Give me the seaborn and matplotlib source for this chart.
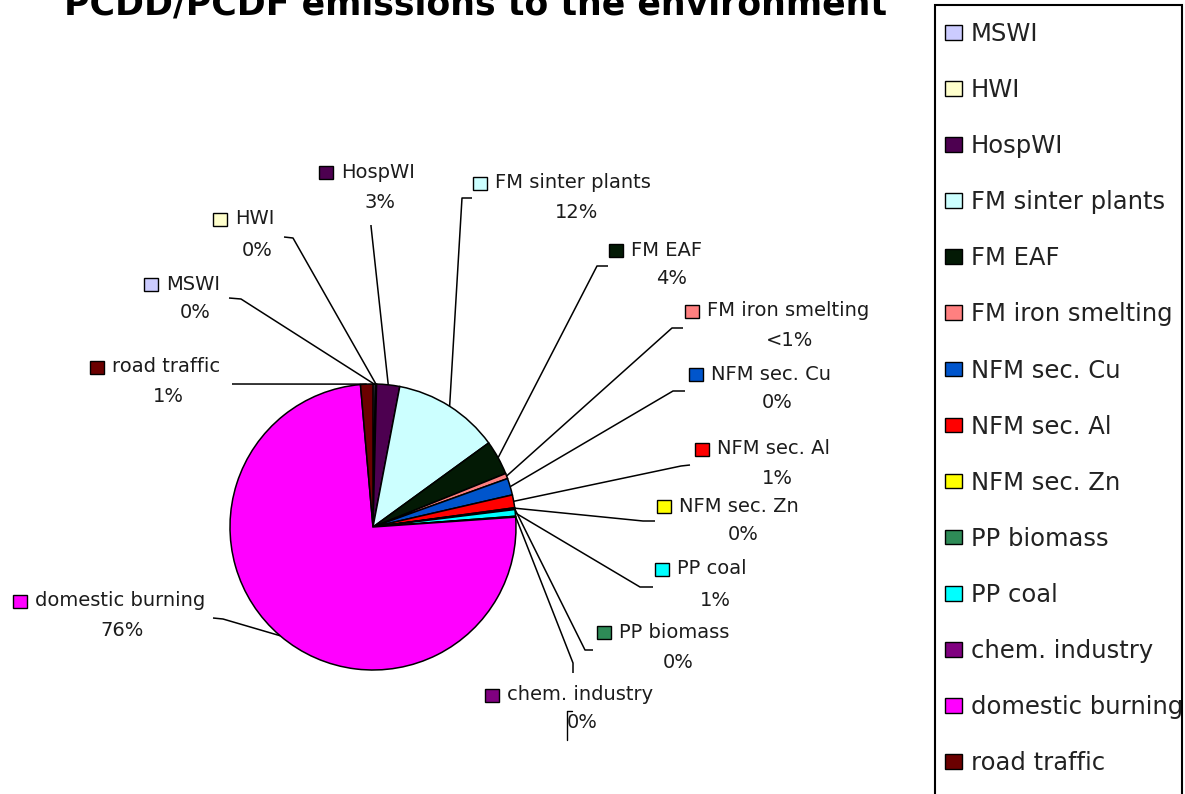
import matplotlib
matplotlib.use("Agg")
import matplotlib.pyplot as plt
from matplotlib.patches import Patch, Rectangle
import seaborn as sns
import numpy as np

# ---------------- data ----------------
categories = ["MSWI", "HWI", "HospWI", "FM sinter plants", "FM EAF",
              "FM iron smelting", "NFM sec. Cu", "NFM sec. Al", "NFM sec. Zn",
              "PP biomass", "PP coal", "chem. industry", "domestic burning",
              "road traffic"]
shares = [0.25, 0.15, 2.6, 12.0, 3.9, 0.6, 1.9, 1.45, 0.1, 0.1, 0.75, 0.1,
          74.7, 1.4]
pct_labels = ["0%", "0%", "3%", "12%", "4%", "<1%", "0%", "1%", "0%", "0%",
              "1%", "0%", "76%", "1%"]
colors = ["#CCCCFF", "#FFFFCC", "#4D0050", "#CCFFFF", "#031A05", "#FF8080",
          "#0055CC", "#FF0000", "#FFFF00", "#2E8B57", "#00FFFF", "#800080",
          "#FF00FF", "#6B0000"]
title = "PCDD/PCDF emissions to the environment"

# ---------------- layout (pixel positions of the reference) ----------------
W, H = 1185, 794
# marker centre of each label (name line)
lab_marker = [(151, 284), (220, 219), (326, 172), (480, 183), (616, 250),
              (692, 311), (696, 374), (702, 449), (664, 506), (604, 632),
              (662, 569), (492, 695), (20, 601), (97, 367)]
# centre of the percent line
lab_pct = [(195, 312), (257, 250), (380, 202), (577, 212), (672, 279),
           (790, 340), (777, 402), (777, 478), (743, 535), (678, 662),
           (715, 600), (582, 723), (122, 631), (168, 397)]
# leader line start segment (outer point, inner point)
leader_start = [((229, 298), (241, 299)), ((284, 237), (293, 238)),
                ((371, 225), (371, 226)), ((472, 198), (462, 198)),
                ((608, 266), (597, 266)), ((683, 328), (672, 328)),
                ((685, 391), (673, 391)), ((690, 465), (681, 466)),
                ((655, 521), (643, 521)), ((593, 650), (585, 650)),
                ((653, 587), (640, 587)), ((573, 673), (573, 663)),
                ((213, 618), (223, 619)), ((232, 384), (233, 384))]

sns.set_theme(style="white")
plt.rcParams["font.family"] = ["DejaVu Sans"]

fig = plt.figure(figsize=(W / 100, H / 100), dpi=100)
ax = fig.add_axes([0, 0, 1, 1])


def Y(py):
    return H - py


CX, CY, R = 373, Y(527), 143
wedges, _ = ax.pie(shares, colors=colors, startangle=90, counterclock=False,
                   center=(CX, CY), radius=R,
                   wedgeprops=dict(edgecolor="black", linewidth=1.1))
ax.set_xlim(0, W)
ax.set_ylim(0, H)
ax.set_aspect("equal")
ax.axis("off")

txt_col = "#1c1c1c"
for i, w in enumerate(wedges):
    mid = np.deg2rad((w.theta1 + w.theta2) / 2)
    ex, ey = CX + R * np.cos(mid), CY + R * np.sin(mid)
    (x0, y0), (x1, y1) = leader_start[i]
    ax.plot([x0, x1, ex], [Y(y0), Y(y1), ey], color="black", lw=1.1,
            solid_capstyle="butt", zorder=3)
    mx, my = lab_marker[i]
    ax.add_patch(Rectangle((mx - 7, Y(my) - 6.5), 14, 13, facecolor=colors[i],
                           edgecolor="black", lw=1.0, zorder=4))
    ax.text(mx + 15, Y(my), categories[i], ha="left", va="center",
            fontsize=14, color=txt_col)
    px, py = lab_pct[i]
    ax.text(px, Y(py), pct_labels[i], ha="center", va="center",
            fontsize=14, color=txt_col)

# odd stray leader fragment near the chem. industry label
ax.plot([572, 567, 567], [Y(711), Y(711), Y(740)], color="black", lw=1.0)

fig.text(476 / W, Y(14) / H, title, ha="center", va="baseline",
         fontsize=25, fontweight="bold", color="black")

handles = [Patch(facecolor=c, edgecolor="black", linewidth=1.0) for c in colors]
leg = ax.legend(handles, categories, loc="upper left",
                bbox_to_anchor=(945 / W, Y(22) / H),
                bbox_transform=fig.transFigure, frameon=False, fontsize=17.5,
                handlelength=0.7, handleheight=0.55, handletextpad=0.35,
                labelspacing=1.32, borderpad=0, borderaxespad=0)
for t in leg.get_texts():
    t.set_color("#222222")
ax.add_patch(Rectangle((935, Y(800)), 247, 795, fill=False, lw=1.5,
                       edgecolor="black", clip_on=False, zorder=5))

fig.savefig("out.png", dpi=100)
